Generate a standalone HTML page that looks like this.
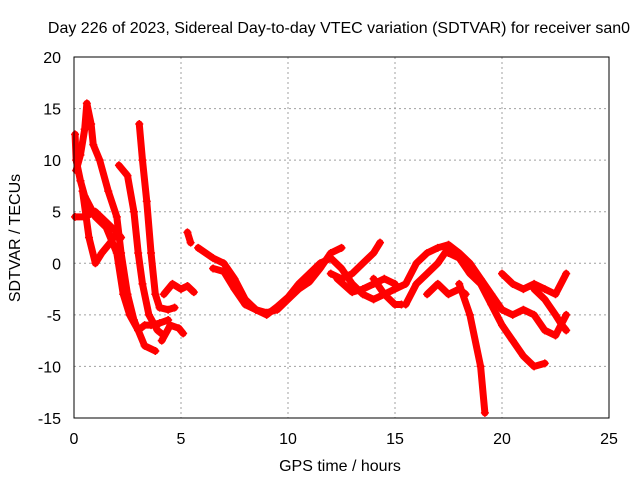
<!DOCTYPE html>
<html><head><meta charset="utf-8"><style>
body{margin:0;background:#fff}
svg text{font-family:"Liberation Sans",sans-serif;font-size:16px;fill:#000}
</style></head><body>
<svg id="chart" width="640" height="480" xmlns="http://www.w3.org/2000/svg">
<rect width="640" height="480" fill="#fff"/>
<text x="339" y="33" text-anchor="middle">Day 226 of 2023, Sidereal Day-to-day VTEC variation (SDTVAR) for receiver san0</text>
<text x="340" y="471" text-anchor="middle">GPS time / hours</text>
<text transform="translate(20,238) rotate(-90)" text-anchor="middle">SDTVAR / TECUs</text>
<g id="grid"></g><g id="marks"></g><g id="axes"></g>
</svg>
<script>
const xTicks=[0,5,10,15,20,25];
const yTicks=[20,15,10,5,0,-5,-10,-15];
const trackA=[[0.05,12.5],[0.1,10],[0.3,8],[0.5,6.5],[1,4.5],[1.5,3.5],[2,1],[2.3,-3],[2.6,-5],[3,-6.5],[3.3,-8],[3.8,-8.5]];
const trackB=[[0.1,9],[0.3,10.5],[0.5,13],[0.6,15.5],[0.8,13.5],[0.9,11.5],[1.2,10],[1.6,7],[2,4.5],[2.2,1],[2.5,-3],[2.8,-5.5],[3,-6.5],[3.3,-6],[3.6,-6],[4,-5.8],[4.4,-5.5]];
const trackC=[[0.05,4.5],[0.5,4.5],[1,5],[1.5,4],[2,3],[2.2,2.5]];
const trackC2=[[0.4,7],[0.7,2.5],[1,0],[1.3,1],[1.7,2],[2,3]];
const trackD=[[2.1,9.5],[2.5,8.5],[2.8,5],[3,1],[3.2,-2],[3.5,-5],[3.9,-6.5],[4.2,-7]];
const trackE=[[3.05,13.5],[3.2,10],[3.4,6],[3.6,1],[3.8,-3],[4,-4.3],[4.4,-4.5],[4.7,-4.3]];
const trackE2=[[4.1,-7.5],[4.5,-6],[4.9,-6.3],[5.1,-6.8]];
const trackF=[[5.3,3],[5.45,2]];
const trackH=[[4.2,-3],[4.6,-2],[5,-2.5],[5.3,-2.2],[5.6,-2.8]];
const trackG=[[5.8,1.5],[6.5,0.5],[7,0],[7.5,-1.5],[8,-3.5],[8.5,-4.5],[9,-4.8],[9.5,-4.5],[10,-3.5],[10.5,-2.5],[11,-1.8],[11.5,-0.5],[12,1],[12.5,1.5]];
const trackG2=[[6.5,-0.5],[7,-0.8],[7.5,-2.5],[8,-4],[8.5,-4.5],[9,-5],[9.5,-4.2],[10,-3.3],[10.5,-2],[11,-1],[11.5,0],[12,0.5],[12.5,-0.5],[13,-2],[13.5,-3],[14,-3.5],[14.5,-3],[15,-2.5],[15.5,-2],[16,0],[16.5,1],[17,1.5],[17.5,1.8],[18,1],[18.5,0],[19,-1.5],[19.5,-3],[20,-4.5],[20.5,-5],[21,-4.5],[21.5,-5],[22,-6.5],[22.5,-7],[23,-5]];
const trackI=[[12,-1],[12.5,-1.5],[13,-1],[13.5,0],[14,1],[14.3,2]];
const trackJ=[[12.3,-1.5],[13,-2.8],[13.5,-2.5],[14,-2],[14.5,-1.5],[15,-2]];
const trackJ2=[[14,-1.5],[14.5,-3],[15,-4],[15.3,-4]];
const trackK=[[15.5,-4],[16,-2],[16.5,-1],[17,0],[17.5,1.5]];
const trackL=[[18,-2],[18.5,-5],[19,-10],[19.2,-14.5]];
const trackM=[[17.5,1],[18,0.5],[18.5,-1],[19,-2],[19.5,-4],[20,-6],[20.5,-7.5],[21,-9],[21.5,-10],[22,-9.7]];
const trackN=[[20,-1],[20.5,-2],[21,-2.5],[21.5,-2],[22,-2.5],[22.5,-3],[23,-1]];
const trackO=[[16.5,-3],[17,-2],[17.5,-3],[18,-2.5],[18.3,-3]];
const trackP=[[21.5,-2.5],[22,-3.5],[22.5,-5],[22.8,-6],[23,-6.5]];
const tracks=[trackA,trackB,trackC,trackC2,trackD,trackE,trackE2,trackF,trackH,trackG,trackG2,trackI,trackJ,trackJ2,trackK,trackL,trackM,trackN,trackO,trackP];
const L=74,R=609,T=57,B=418;
const xs=v=>L+(v-0)/25*(R-L);
const ys=v=>T+(20-v)/35*(B-T);
const NS="http://www.w3.org/2000/svg";
function mk(tag,parent){const e=document.createElementNS(NS,tag);parent.appendChild(e);return e;}
const grid=document.getElementById('grid'),marks=document.getElementById('marks'),axes=document.getElementById('axes');
xTicks.forEach(t=>{
 if(t>0&&t<25){const g=mk('line',grid);
 g.setAttribute('x1',xs(t));g.setAttribute('x2',xs(t));g.setAttribute('y1',T);g.setAttribute('y2',B);g.setAttribute('stroke','#a0a0a0');g.setAttribute('stroke-dasharray','2,3');}
 const tx=mk('text',axes);
 tx.setAttribute('x',xs(t));tx.setAttribute('y',B+26);tx.setAttribute('text-anchor','middle');tx.textContent=t;
});
yTicks.forEach(t=>{
 if(t<20&&t>-15){const g=mk('line',grid);
 g.setAttribute('x1',L);g.setAttribute('x2',R);g.setAttribute('y1',ys(t));g.setAttribute('y2',ys(t));g.setAttribute('stroke','#a0a0a0');g.setAttribute('stroke-dasharray','2,3');}
 const tx=mk('text',axes);
 tx.setAttribute('x',L-13);tx.setAttribute('y',ys(t)+6);tx.setAttribute('text-anchor','end');tx.textContent=t;
});
tracks.forEach(tr=>{
 const pl=mk('polyline',marks);
 
 
 pl.setAttribute('points',tr.map(p=>xs(p[0])+','+ys(p[1])).join(' '));
 pl.setAttribute('fill','none');pl.setAttribute('stroke','#ff0000');pl.setAttribute('stroke-width','7');pl.setAttribute('stroke-linejoin','round');pl.setAttribute('stroke-linecap','round');
 tr.forEach(p=>{const m=mk('path',marks);
  
  
  const x=xs(p[0]),y=ys(p[1]);m.setAttribute('d',`M${x-4},${y}H${x+4}M${x},${y-4}V${y+4}`);m.setAttribute('stroke','#ff0000');m.setAttribute('stroke-width','1.5');});
});
const fr=mk('rect',axes);
fr.setAttribute('x',L);fr.setAttribute('y',T);fr.setAttribute('width',R-L);fr.setAttribute('height',B-T);fr.setAttribute('fill','none');fr.setAttribute('stroke','#000');
</script>
</body></html>
